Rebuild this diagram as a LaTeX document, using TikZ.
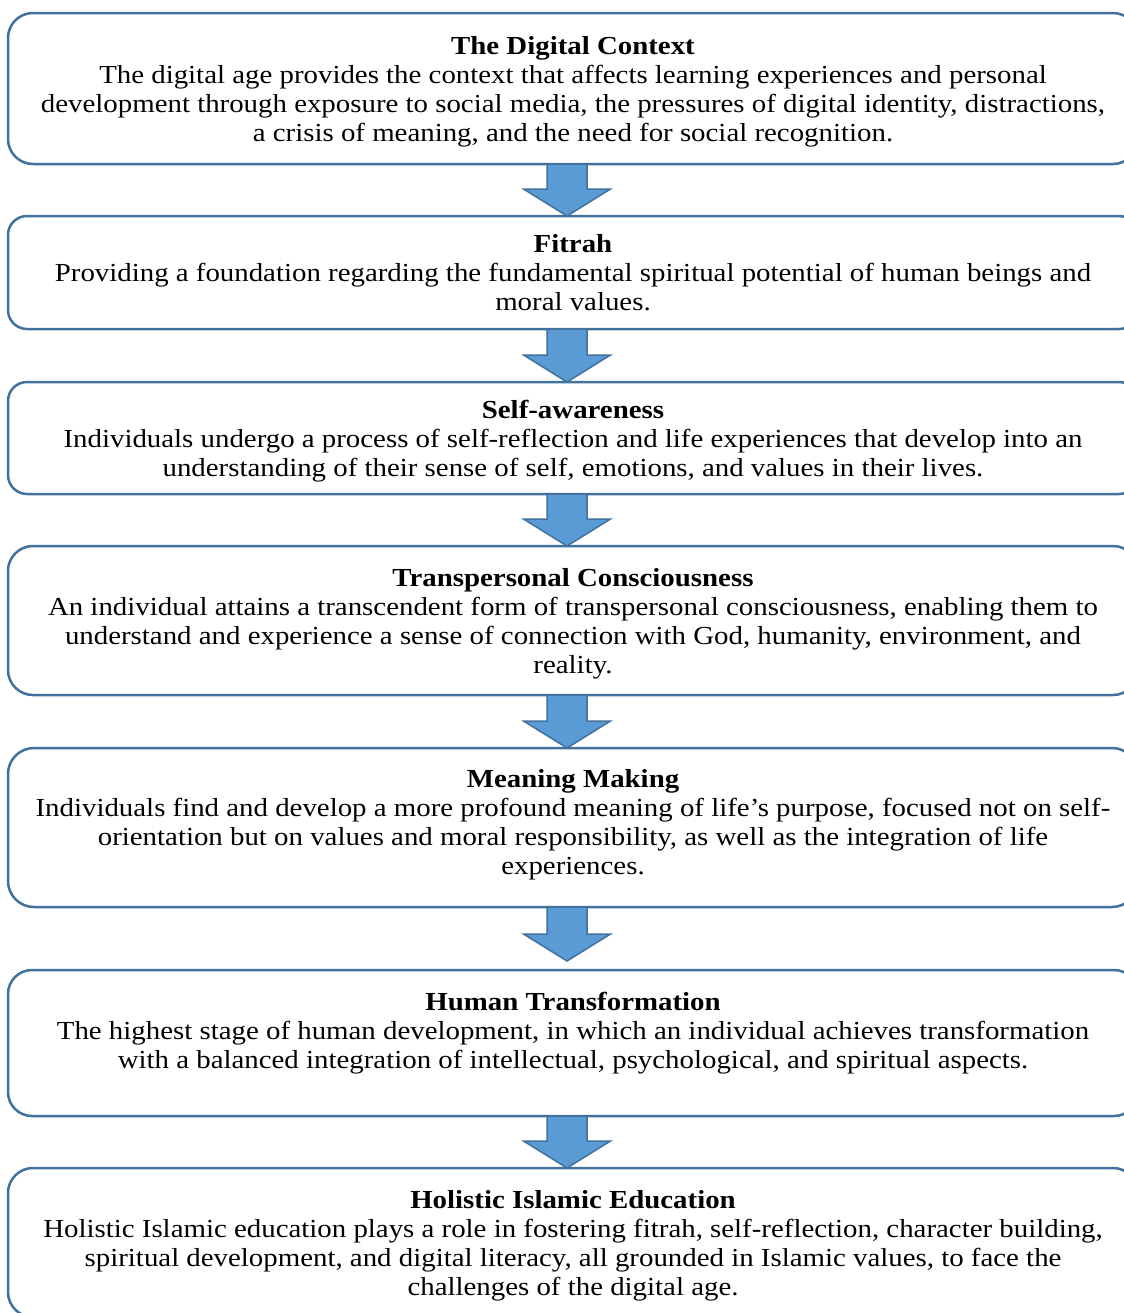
\documentclass[tikz,border=0pt]{standalone}
\usepackage{fontspec}
\setmainfont[FakeStretch=1.11]{Liberation Serif}
\usepackage{tikz}
\usetikzlibrary{positioning,calc}
\definecolor{boxline}{HTML}{41719C}
\definecolor{arrowfill}{HTML}{5B9BD5}

\tikzset{
  stage/.style={draw=boxline, line width=1.25pt, fill=white, outer sep=0pt,
    minimum width=565pt, align=center, inner sep=0pt, text depth=0pt,
    font=\fontsize{13pt}{14.5pt}\selectfont},
  flow/.style={draw=boxline, line width=0.75pt, fill=arrowfill, line join=miter}
}

% block arrow from the bottom of #2 down to the top of #3 (#1 lifts the tip)
\newcommand{\flowarrow}[3][0pt]{%
  \coordinate (tip) at ($(#3.north)+(-3pt,#1)$);
  \draw[flow] ($(#2.south)+(-13pt,0)$) -- ($(tip)+(-10pt,13.5pt)$)
    -- ($(tip)+(-21.75pt,13.5pt)$) -- (tip) -- ($(tip)+(21.75pt,13.5pt)$)
    -- ($(tip)+(10pt,13.5pt)$) -- ($(#2.south)+(7pt,0)$) -- cycle;
}

\begin{document}
\begin{tikzpicture}
  \useasboundingbox (0,0) rectangle (562pt,-656.5pt);

  \node[stage, minimum height=75.5pt, rounded corners=12.5pt] (ctx) at (286.5pt,-44.25pt)
    {\textbf{The Digital Context}\\
     The digital age provides the context that affects learning experiences and personal\\
     development through exposure to social media, the pressures of digital identity, distractions,\\
     a crisis of meaning, and the need for social recognition.};
  \node[stage, minimum height=56.5pt, rounded corners=9.5pt] (fit) [below=26pt of ctx]
    {\textbf{Fitrah}\\
     Providing a foundation regarding the fundamental spiritual potential of human beings and\\
     moral values.};
  \node[stage, minimum height=56pt, rounded corners=9.5pt] (self) [below=26.5pt of fit]
    {\textbf{Self-awareness}\\
     Individuals undergo a process of self-reflection and life experiences that develop into an\\
     understanding of their sense of self, emotions, and values in their lives.};
  \node[stage, minimum height=74.5pt, rounded corners=12.5pt] (trans) [below=26pt of self]
    {\textbf{Transpersonal Consciousness}\\
     An individual attains a transcendent form of transpersonal consciousness, enabling them to\\
     understand and experience a sense of connection with God, humanity, environment, and\\
     reality.};
  \node[stage, minimum height=79.5pt, rounded corners=13pt, text depth=6pt] (mean) [below=26.5pt of trans]
    {\textbf{Meaning Making}\\
     Individuals find and develop a more profound meaning of life’s purpose, focused not on self-\\
     orientation but on values and moral responsibility, as well as the integration of life\\
     experiences.};
  \node[stage, minimum height=73pt, rounded corners=12pt, text depth=13pt] (human) [below=31.5pt of mean]
    {\textbf{Human Transformation}\\
     The highest stage of human development, in which an individual achieves transformation\\
     with a balanced integration of intellectual, psychological, and spiritual aspects.};
  \node[stage, minimum height=74.5pt, rounded corners=12.5pt] (edu) [below=26pt of human]
    {\textbf{Holistic Islamic Education}\\
     Holistic Islamic education plays a role in fostering fitrah, self-reflection, character building,\\
     spiritual development, and digital literacy, all grounded in Islamic values, to face the\\
     challenges of the digital age.};

  \flowarrow{ctx}{fit}
  \flowarrow{fit}{self}
  \flowarrow{self}{trans}
  \flowarrow{trans}{mean}
  \flowarrow[4.5pt]{mean}{human}
  \flowarrow{human}{edu}
\end{tikzpicture}
\end{document}
